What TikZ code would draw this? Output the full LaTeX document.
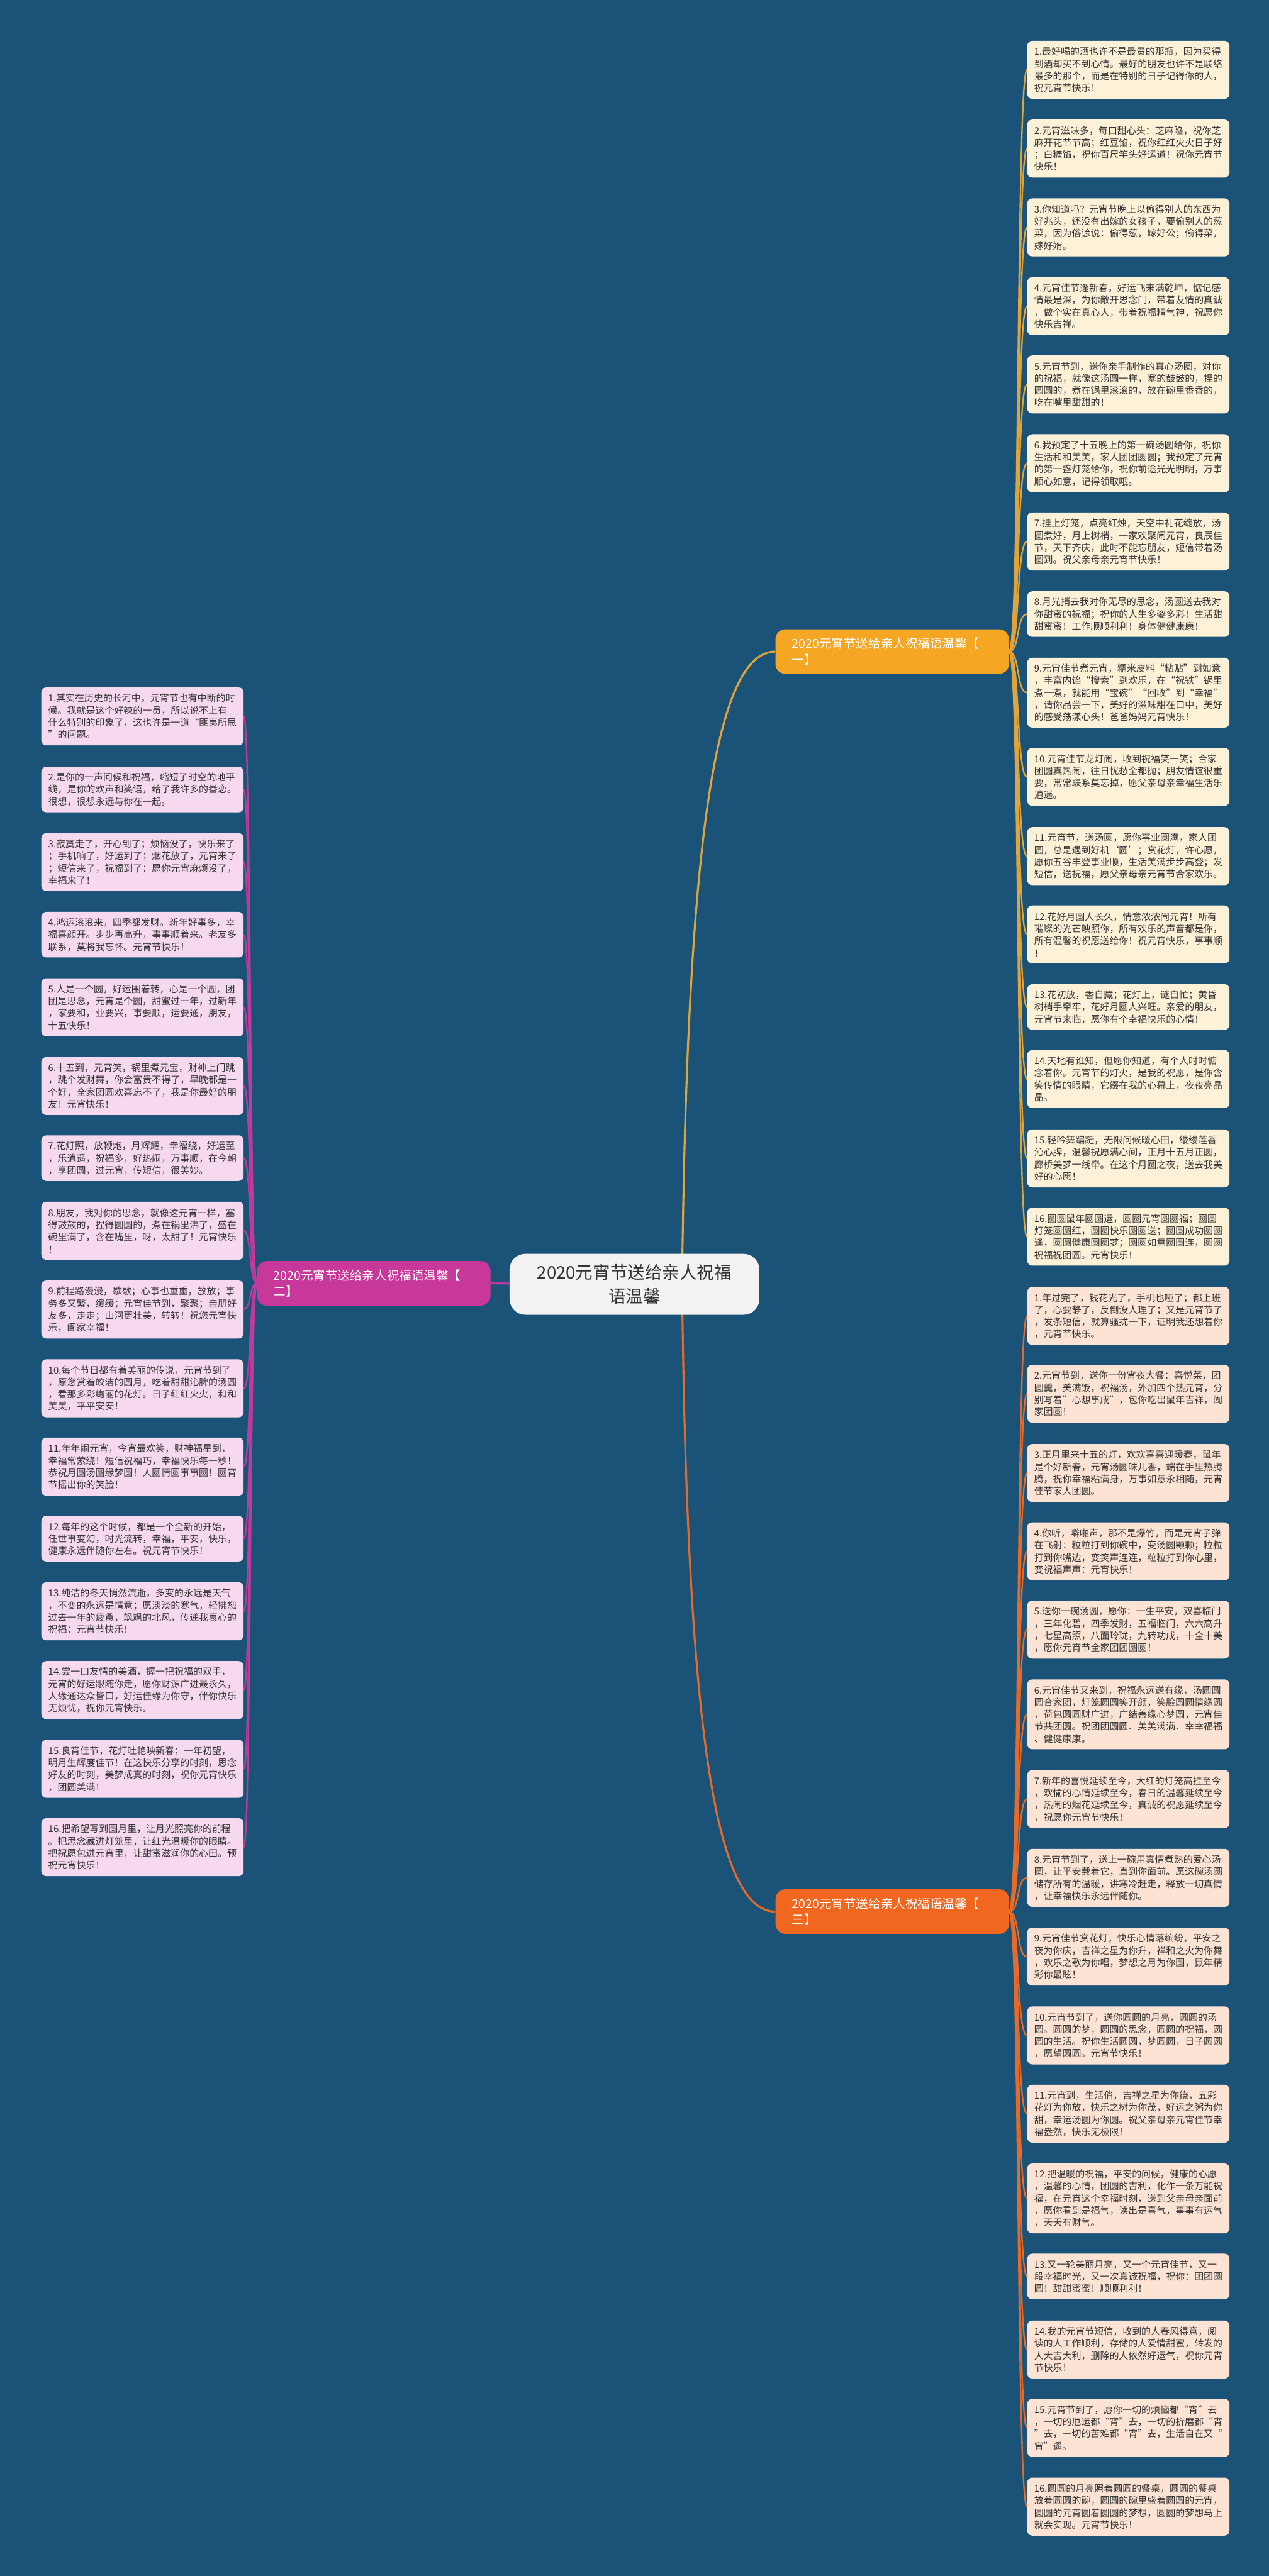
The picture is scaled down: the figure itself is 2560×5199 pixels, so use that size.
\documentclass[tikz,border=0pt]{standalone}
\usepackage{fontspec}
\setmainfont{Noto Sans CJK SC}
\definecolor{bgblue}{HTML}{1B5378}
\definecolor{goldnode}{HTML}{F5A623}
\definecolor{goldline}{HTML}{E0A43A}
\definecolor{cream}{HTML}{FDF1D8}
\definecolor{magnode}{HTML}{C8389B}
\definecolor{magline}{HTML}{C03A9E}
\definecolor{pinkfill}{HTML}{F6D9EE}
\definecolor{orgnode}{HTML}{F2671F}
\definecolor{orgline}{HTML}{E86A28}
\definecolor{peach}{HTML}{FDE3D4}
\definecolor{rootfill}{HTML}{F2F2F2}
\definecolor{txt}{HTML}{333333}
\pgfdeclarelayer{back}
\pgfsetlayers{back,main}
\begin{document}
\begin{tikzpicture}[x=0.5pt,y=-0.5pt,
  leaf/.style={anchor=north west, rounded corners=5pt, text width=190pt, inner xsep=7pt, inner ysep=0pt, align=left, font=\fontsize{9.5pt}{12.25pt}\selectfont, text=txt},
  la/.style={leaf, fill=cream},
  lb/.style={leaf, fill=pinkfill},
  lc/.style={leaf, fill=peach},
  hthree/.style={minimum height=46pt},
  hfour/.style={minimum height=58.5pt},
  hfive/.style={minimum height=70.5pt},
  branch/.style={rounded corners=10pt, minimum width=235.5pt, minimum height=45pt, text width=202pt, inner xsep=8pt, align=left, font=\fontsize{12.4pt}{16pt}\selectfont, text=white},
  rootbox/.style={fill=rootfill, rounded corners=16pt, minimum width=252pt, minimum height=61.5pt, align=center, font=\fontsize{17.5pt}{24pt}\selectfont, text=txt},
  link/.style={line width=1.5pt},
  mainlink/.style={line width=2pt}
]
\useasboundingbox (0,0) rectangle (2560,5199);
\begin{pgfonlayer}{back}
\fill[bgblue] (0,0) rectangle (2560,5199);
\end{pgfonlayer}

% root and branches
\node[rootbox] (root) at (1280,2592) {2020元宵节送给亲人祝福\\语温馨};
\node[branch, fill=goldnode] (b1) at (1800,1315) {2020元宵节送给亲人祝福语温馨【\\一】};
\node[branch, fill=magnode] (b2) at (754,2590) {2020元宵节送给亲人祝福语温馨【\\二】};
\node[branch, fill=orgnode] (b3) at (1800,3858) {2020元宵节送给亲人祝福语温馨【\\三】};

% branch 1 leaves
\node[la,hfour] (r1) at (2072,82) {1.最好喝的酒也许不是最贵的那瓶，因为买得\\到酒却买不到心情。最好的朋友也许不是联络\\最多的那个，而是在特别的日子记得你的人，\\祝元宵节快乐！};
\node[la,hfour] (r2) at (2072,241) {2.元宵滋味多，每口甜心头：芝麻陷，祝你芝\\麻开花节节高；红豆馅，祝你红红火火日子好\\；白糖馅，祝你百尺竿头好运道！祝你元宵节\\快乐！};
\node[la,hfour] (r3) at (2072,400) {3.你知道吗？元宵节晚上以偷得别人的东西为\\好兆头，还没有出嫁的女孩子，要偷别人的葱\\菜，因为俗谚说：偷得葱，嫁好公；偷得菜，\\嫁好婿。};
\node[la,hfour] (r4) at (2072,559) {4.元宵佳节逢新春，好运飞来满乾坤，惦记感\\情最是深，为你敞开思念门，带着友情的真诚\\，做个实在真心人，带着祝福精气神，祝愿你\\快乐吉祥。};
\node[la,hfour] (r5) at (2072,717) {5.元宵节到，送你亲手制作的真心汤圆，对你\\的祝福，就像这汤圆一样，塞的鼓鼓的，捏的\\圆圆的，煮在锅里滚滚的，放在碗里香香的，\\吃在嘴里甜甜的！};
\node[la,hfour] (r6) at (2072,876) {6.我预定了十五晚上的第一碗汤圆给你，祝你\\生活和和美美，家人团团圆圆；我预定了元宵\\的第一盏灯笼给你，祝你前途光光明明，万事\\顺心如意，记得领取哦。};
\node[la,hfour] (r7) at (2072,1034) {7.挂上灯笼，点亮红烛，天空中礼花绽放，汤\\圆煮好，月上树梢，一家欢聚闹元宵，良辰佳\\节，天下齐庆，此时不能忘朋友，短信带着汤\\圆到。祝父亲母亲元宵节快乐！};
\node[la,hthree] (r8) at (2072,1193) {8.月光捎去我对你无尽的思念，汤圆送去我对\\你甜蜜的祝福；祝你的人生多姿多彩！生活甜\\甜蜜蜜！工作顺顺利利！身体健健康康！};
\node[la,hfive] (r9) at (2072,1327) {9.元宵佳节煮元宵，糯米皮料“粘贴”到如意\\，丰富内馅“搜索”到欢乐，在“祝铁”锅里\\煮一煮，就能用“宝碗”“回收”到“幸福”\\，请你品尝一下，美好的滋味甜在口中，美好\\的感受荡漾心头！爸爸妈妈元宵快乐！};
\node[la,hfour] (r10) at (2072,1509) {10.元宵佳节龙灯闹，收到祝福笑一笑；合家\\团圆真热闹，往日忧愁全都抛；朋友情谊很重\\要，常常联系莫忘掉，愿父亲母亲幸福生活乐\\逍遥。};
\node[la,hfour] (r11) at (2072,1669) {11.元宵节，送汤圆，愿你事业圆满，家人团\\圆，总是遇到好机‘圆’；赏花灯，许心愿，\\愿你五谷丰登事业顺，生活美满步步高登；发\\短信，送祝福，愿父亲母亲元宵节合家欢乐。};
\node[la,hfour] (r12) at (2072,1827) {12.花好月圆人长久，情意浓浓闹元宵！所有\\璀璨的光芒映照你，所有欢乐的声音都是你，\\所有温馨的祝愿送给你！祝元宵快乐，事事顺\\！};
\node[la,hthree] (r13) at (2072,1986) {13.花初放，香自藏；花灯上，谜自忙；黄昏\\树梢手牵牢，花好月圆人兴旺。亲爱的朋友，\\元宵节来临，愿你有个幸福快乐的心情！};
\node[la,hfour] (r14) at (2072,2119) {14.天地有谁知，但愿你知道，有个人时时惦\\念着你。元宵节的灯火，是我的祝愿，是你含\\笑传情的眼睛，它缀在我的心幕上，夜夜亮晶\\晶。};
\node[la,hfour] (r15) at (2072,2279) {15.轻吟舞蹁跹，无限问候暖心田，缕缕莲香\\沁心脾，温馨祝愿满心间，正月十五月正圆，\\廊桥美梦一线牵。在这个月圆之夜，送去我美\\好的心愿！};
\node[la,hfour] (r16) at (2072,2437) {16.圆圆鼠年圆圆运，圆圆元宵圆圆福；圆圆\\灯笼圆圆红，圆圆快乐圆圆送；圆圆成功圆圆\\逢，圆圆健康圆圆梦；圆圆如意圆圆连，圆圆\\祝福祝团圆。元宵快乐！};

% branch 2 leaves (left)
\node[lb,hfour] (l1) at (83,1387) {1.其实在历史的长河中，元宵节也有中断的时\\候。我就是这个好辣的一员，所以说不上有\\什么特别的印象了，这也许是一道“匪夷所思\\”的问题。};
\node[lb,hthree] (l2) at (83,1547) {2.是你的一声问候和祝福，缩短了时空的地平\\线，是你的欢声和笑语，给了我许多的眷恋。\\很想，很想永远与你在一起。};
\node[lb,hfour] (l3) at (83,1681) {3.寂寞走了，开心到了；烦恼没了，快乐来了\\；手机响了，好运到了；烟花放了，元宵来了\\；短信来了，祝福到了：愿你元宵麻烦没了，\\幸福来了！};
\node[lb,hthree] (l4) at (83,1840) {4.鸿运滚滚来，四季都发财。新年好事多，幸\\福喜颜开。步步再高升，事事顺着来。老友多\\联系，莫将我忘怀。元宵节快乐！};
\node[lb,hfour] (l5) at (83,1974) {5.人是一个圆，好运围着转，心是一个圆，团\\团是思念，元宵是个圆，甜蜜过一年，过新年\\，家要和，业要兴，事要顺，运要通，朋友，\\十五快乐！};
\node[lb,hfour] (l6) at (83,2133) {6.十五到，元宵笑，锅里煮元宝，财神上门跳\\，跳个发财舞，你会富贵不得了，早晚都是一\\个好，全家团圆欢喜忘不了，我是你最好的朋\\友！元宵快乐！};
\node[lb,hthree] (l7) at (83,2291) {7.花灯照，放鞭炮，月辉耀，幸福绕，好运至\\，乐逍遥，祝福多，好热闹，万事顺，在今朝\\，享团圆，过元宵，传短信，很美妙。};
\node[lb,hfour] (l8) at (83,2425) {8.朋友，我对你的思念，就像这元宵一样，塞\\得鼓鼓的，捏得圆圆的，煮在锅里沸了，盛在\\碗里满了，含在嘴里，呀，太甜了！元宵快乐\\！};
\node[lb,hfour] (l9) at (83,2584) {9.前程路漫漫，歇歇；心事也重重，放放；事\\务多又繁，缓缓；元宵佳节到，聚聚；亲朋好\\友多，走走；山河更壮美，转转！祝您元宵快\\乐，阖家幸福！};
\node[lb,hfour] (l10) at (83,2743) {10.每个节日都有着美丽的传说，元宵节到了\\，原您赏着皎洁的圆月，吃着甜甜沁脾的汤圆\\，看那多彩绚丽的花灯。日子红红火火，和和\\美美，平平安安！};
\node[lb,hfour] (l11) at (83,2901) {11.年年闹元宵，今宵最欢笑，财神福星到，\\幸福常萦绕！短信祝福巧，幸福快乐每一秒！\\恭祝月圆汤圆缘梦圆！人圆情圆事事圆！圆宵\\节摇出你的笑脸！};
\node[lb,hthree] (l12) at (83,3059) {12.每年的这个时候，都是一个全新的开始，\\任世事变幻，时光流转，幸福，平安，快乐，\\健康永远伴随你左右。祝元宵节快乐！};
\node[lb,hfour] (l13) at (83,3193) {13.纯洁的冬天悄然流逝，多变的永远是天气\\，不变的永远是情意；愿淡淡的寒气，轻拂您\\过去一年的疲惫，飒飒的北风，传递我衷心的\\祝福：元宵节快乐！};
\node[lb,hfour] (l14) at (83,3352) {14.尝一口友情的美酒，握一把祝福的双手，\\元宵的好运跟随你走，愿你财源广进最永久，\\人缘通达众皆口，好运佳缘为你守，伴你快乐\\无烦忧，祝你元宵快乐。};
\node[lb,hfour] (l15) at (83,3511) {15.良宵佳节，花灯吐艳映新春；一年初望，\\明月生辉度佳节！在这快乐分享的时刻，思念\\好友的时刻，美梦成真的时刻，祝你元宵快乐\\，团圆美满！};
\node[lb,hfour] (l16) at (83,3669) {16.把希望写到圆月里，让月光照亮你的前程\\。把思念藏进灯笼里，让红光温暖你的眼睛。\\把祝愿包进元宵里，让甜蜜滋润你的心田。预\\祝元宵快乐！};

% branch 3 leaves
\node[lc,hfour] (s1) at (2072,2597) {1.年过完了，钱花光了，手机也哑了；都上班\\了，心要静了，反倒没人理了；又是元宵节了\\，发条短信，就算骚扰一下，证明我还想着你\\，元宵节快乐。};
\node[lc,hfour] (s2) at (2072,2754) {2.元宵节到，送你一份宵夜大餐：喜悦菜，团\\圆羹，美满饭，祝福汤，外加四个热元宵，分\\别写着"心想事成"，包你吃出鼠年吉祥，阖\\家团圆！};
\node[lc,hfour] (s3) at (2072,2914) {3.正月里来十五的灯，欢欢喜喜迎暖春，鼠年\\是个好新春，元宵汤圆味儿香，端在手里热腾\\腾，祝你幸福粘满身，万事如意永相随，元宵\\佳节家人团圆。};
\node[lc,hfour] (s4) at (2072,3072) {4.你听，噼啪声，那不是爆竹，而是元宵子弹\\在飞射：粒粒打到你碗中，变汤圆颗颗；粒粒\\打到你嘴边，变笑声连连，粒粒打到你心里，\\变祝福声声：元宵快乐！};
\node[lc,hfour] (s5) at (2072,3230) {5.送你一碗汤圆，愿你：一生平安，双喜临门\\，三年化碧，四季发财，五福临门，六六高升\\，七星高照，八面玲珑，九转功成，十全十美\\，愿你元宵节全家团团圆圆！};
\node[lc,hfive] (s6) at (2072,3389) {6.元宵佳节又来到，祝福永远送有缘，汤圆圆\\圆合家团，灯笼圆圆笑开颜，笑脸圆圆情缘圆\\，荷包圆圆财广进，广结善缘心梦圆，元宵佳\\节共团圆。祝团团圆圆、美美满满、幸幸福福\\、健健康康。};
\node[lc,hfour] (s7) at (2072,3572) {7.新年的喜悦延续至今，大红的灯笼高挂至今\\，欢愉的心情延续至今，春日的温馨延续至今\\，热闹的烟花延续至今，真诚的祝愿延续至今\\，祝愿你元宵节快乐！};
\node[lc,hfour] (s8) at (2072,3731) {8.元宵节到了，送上一碗用真情煮熟的爱心汤\\圆，让平安载着它，直到你面前。愿这碗汤圆\\储存所有的温暖，讲寒冷赶走，释放一切真情\\，让幸福快乐永远伴随你。};
\node[lc,hfour] (s9) at (2072,3890) {9.元宵佳节赏花灯，快乐心情落缤纷，平安之\\夜为你庆，吉祥之星为你升，祥和之火为你舞\\，欢乐之歌为你唱，梦想之月为你圆，鼠年精\\彩你最眩！};
\node[lc,hfour] (s10) at (2072,4049) {10.元宵节到了，送你圆圆的月亮，圆圆的汤\\圆。圆圆的梦，圆圆的思念，圆圆的祝福，圆\\圆的生活。祝你生活圆圆，梦圆圆，日子圆圆\\，愿望圆圆。元宵节快乐！};
\node[lc,hfour] (s11) at (2072,4207) {11.元宵到，生活俏，吉祥之星为你绕，五彩\\花灯为你放，快乐之树为你茂，好运之粥为你\\甜，幸运汤圆为你圆。祝父亲母亲元宵佳节幸\\福盎然，快乐无极限！};
\node[lc,hfive] (s12) at (2072,4366) {12.把温暖的祝福，平安的问候，健康的心愿\\，温馨的心情，团圆的吉利，化作一条万能祝\\福，在元宵这个幸福时刻，送到父亲母亲面前\\，愿你看到是福气，读出是喜气，事事有运气\\，天天有财气。};
\node[lc,hthree] (s13) at (2072,4548) {13.又一轮美丽月亮，又一个元宵佳节，又一\\段幸福时光，又一次真诚祝福，祝你：团团圆\\圆！甜甜蜜蜜！顺顺利利！};
\node[lc,hfour] (s14) at (2072,4683) {14.我的元宵节短信，收到的人春风得意，阅\\读的人工作顺利，存储的人爱情甜蜜，转发的\\人大吉大利，删除的人依然好运气，祝你元宵\\节快乐！};
\node[lc,hfour] (s15) at (2072,4841) {15.元宵节到了，愿你一切的烦恼都“宵”去\\，一切的厄运都“宵”去，一切的折磨都“宵\\”去，一切的苦难都“宵”去，生活自在又“\\宵”遥。};
\node[lc,hfour] (s16) at (2072,5000) {16.圆圆的月亮照着圆圆的餐桌，圆圆的餐桌\\放着圆圆的碗，圆圆的碗里盛着圆圆的元宵，\\圆圆的元宵圆着圆圆的梦想，圆圆的梦想马上\\就会实现。元宵节快乐！};

% connectors
\begin{pgfonlayer}{back}
\draw[mainlink, goldline] ([xshift=48pt]root.center) .. controls +(10,-900) and +(-120,0) .. (b1.west);
\draw[mainlink, orgline] ([xshift=48pt]root.center) .. controls +(10,900) and +(-120,0) .. (b3.west);
\draw[mainlink, magline] (root.center) .. controls +(-200,0) and +(20,0) .. (b2.east);
\foreach \i in {1,...,16} {
  \draw[link, goldline] (b1.east) .. controls +(22,0) and +(-22,0) .. (r\i.west);
  \draw[link, magline] (b2.west) .. controls +(-15,0) and +(15,0) .. (l\i.east);
  \draw[link, orgline] (b3.east) .. controls +(22,0) and +(-22,0) .. (s\i.west);
}
\end{pgfonlayer}
\end{tikzpicture}
\end{document}
